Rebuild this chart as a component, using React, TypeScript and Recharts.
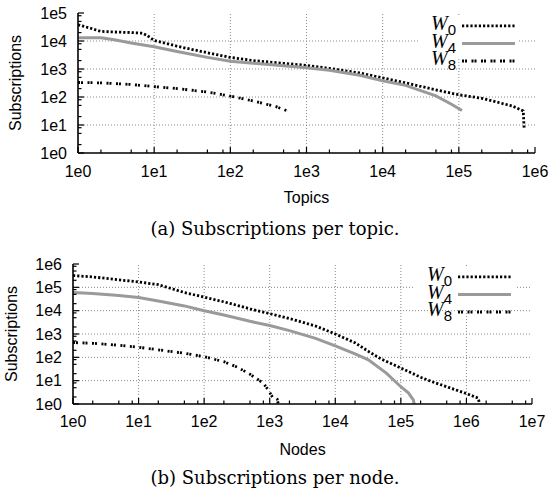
import React from 'react';
import { LineChart, Line, XAxis, YAxis, ReferenceLine, Legend } from 'recharts';

// ---------- (a) Subscriptions per topic ----------
const topicsW0X = [1, 1.5, 2, 3, 5, 7, 8, 10, 20, 50, 100, 200, 500, 1000, 2000, 5000, 10000, 20000, 50000, 100000, 200000, 500000, 700000, 720000];
const topicsW0Y = [38000, 28000, 22000, 21000, 20000, 19000, 16000, 10500, 6500, 3800, 2600, 2000, 1600, 1350, 1050, 720, 480, 320, 180, 120, 90, 48, 32, 8];
const topicsW4X = [1, 2, 3, 5, 10, 20, 50, 100, 200, 500, 1000, 2000, 5000, 10000, 20000, 50000, 80000, 110000];
const topicsW4Y = [13000, 13000, 11000, 8500, 6200, 4200, 2600, 1900, 1600, 1300, 1100, 900, 600, 380, 260, 110, 55, 33];
const topicsW8X = [1, 2, 5, 10, 20, 50, 100, 200, 400, 560];
const topicsW8Y = [330, 320, 280, 235, 200, 150, 108, 72, 45, 32];

// ---------- (b) Subscriptions per node ----------
const nodesW0X = [1, 2, 5, 10, 20, 50, 100, 200, 500, 1000, 2000, 5000, 10000, 20000, 32000, 50000, 100000, 200000, 300000, 500000, 1000000, 1500000, 1600000];
const nodesW0Y = [320000, 280000, 210000, 170000, 130000, 60000, 38000, 24000, 12000, 7500, 4600, 2200, 1000, 420, 180, 85, 35, 14, 9, 5.5, 2.8, 1.8, 1];
const nodesW4X = [1, 2, 5, 10, 20, 50, 100, 200, 500, 1000, 2000, 5000, 10000, 20000, 32000, 60000, 100000, 130000, 155000, 160000];
const nodesW4Y = [60000, 55000, 45000, 37000, 26000, 16000, 10000, 6500, 3500, 2300, 1400, 650, 310, 140, 78, 21, 5.5, 3, 1.5, 1];
const nodesW8X = [1, 2, 5, 10, 20, 50, 100, 200, 320, 500, 700, 800, 950, 1100, 1300, 1350];
const nodesW8Y = [430, 400, 330, 270, 210, 150, 107, 65, 38, 19, 10, 7.8, 4, 2, 1.6, 1];

// ---------- ticks ----------
const topicsXTicks = [1, 10, 100, 1000, 10000, 100000, 1000000];
const topicsXLabels = ['1e0', '1e1', '1e2', '1e3', '1e4', '1e5', '1e6'];
const topicsYTicks = [1, 10, 100, 1000, 10000, 100000];
const topicsYLabels = ['1e0', '1e1', '1e2', '1e3', '1e4', '1e5'];
const nodesXTicks = [1, 10, 100, 1000, 10000, 100000, 1000000, 10000000];
const nodesXLabels = ['1e0', '1e1', '1e2', '1e3', '1e4', '1e5', '1e6', '1e7'];
const nodesYTicks = [1, 10, 100, 1000, 10000, 100000, 1000000];
const nodesYLabels = ['1e0', '1e1', '1e2', '1e3', '1e4', '1e5', '1e6'];
const minorSteps = [2, 5, 8];

const seriesNames = ['W0', 'W4', 'W8'];
const seriesStyles: Record<string, { stroke: string; width: number; dash?: string }> = {
  W0: { stroke: '#000000', width: 2.8, dash: '2.2 2' },
  W4: { stroke: '#9a9a9a', width: 3 },
  W8: { stroke: '#000000', width: 2.8, dash: '2 1 2 4.5' },
};

const toPoints = (xs: number[], ys: number[]) => xs.map((x, i) => ({ x, y: ys[i] }));

const topicsSeries = [
  { name: seriesNames[0], data: toPoints(topicsW0X, topicsW0Y) },
  { name: seriesNames[1], data: toPoints(topicsW4X, topicsW4Y) },
  { name: seriesNames[2], data: toPoints(topicsW8X, topicsW8Y) },
];
const nodesSeries = [
  { name: seriesNames[0], data: toPoints(nodesW0X, nodesW0Y) },
  { name: seriesNames[1], data: toPoints(nodesW4X, nodesW4Y) },
  { name: seriesNames[2], data: toPoints(nodesW8X, nodesW8Y) },
];

const withMinors = (majors: number[]) => {
  const out: number[] = [];
  majors.forEach((m, i) => {
    out.push(m);
    if (i < majors.length - 1) minorSteps.forEach((s) => out.push(m * s));
  });
  return out;
};

const FONT = '"Liberation Sans", Arial, Helvetica, sans-serif';
const SERIF = '"Liberation Serif", "Times New Roman", serif';
const axisStyle = { stroke: '#000', strokeWidth: 1.6 };

function makeTick(side: 'bottom' | 'top' | 'left' | 'right', majors: number[], labels?: string[], gap = 12.5) {
  return (props: any) => {
    const { x, y, payload } = props;
    const v = payload.value;
    const idx = majors.indexOf(v);
    const len = idx >= 0 ? 6 : 3.5;
    let x2 = x;
    let y2 = y;
    if (side === 'bottom') y2 = y - len;
    if (side === 'top') y2 = y + len;
    if (side === 'left') x2 = x + len;
    if (side === 'right') x2 = x - len;
    let label: React.ReactNode = null;
    if (labels && idx >= 0) {
      if (side === 'bottom') {
        label = (
          <text x={x} y={y + gap} dy="0.71em" textAnchor="middle" fontSize={16} fontFamily={FONT} fill="#000">
            {labels[idx]}
          </text>
        );
      } else if (side === 'left') {
        label = (
          <text x={x - 11} y={y} dy="0.355em" textAnchor="end" fontSize={16} fontFamily={FONT} fill="#000">
            {labels[idx]}
          </text>
        );
      }
    }
    return (
      <g>
        <line x1={x} y1={y} x2={x2} y2={y2} stroke="#000" strokeWidth={1.2} />
        {label}
      </g>
    );
  };
}

const LEG_W = 100;
const ROW_H = 17.6;

function makeLegend() {
  return (props: any) => {
    const payload = props.payload || [];
    return (
      <div style={{ position: 'relative', width: LEG_W, height: 41, background: '#fff' }}>
        <svg width={LEG_W} height={60} style={{ position: 'absolute', left: 0, top: 0, overflow: 'visible' }}>
          {payload.map((entry: any, i: number) => {
            const name = String(entry.value);
            const st = seriesStyles[name] || seriesStyles.W0;
            const cy = ROW_H / 2 + i * ROW_H;
            return (
              <g key={name}>
                <text x={37} y={cy + 4.3} textAnchor="end" fill="#000">
                  <tspan fontFamily={SERIF} fontStyle="italic" fontSize={20}>
                    {name.charAt(0)}
                  </tspan>
                  <tspan fontFamily={FONT} fontSize={15} dy={5}>
                    {name.slice(1)}
                  </tspan>
                </text>
                <line x1={43} y1={cy} x2={96} y2={cy} stroke={st.stroke} strokeWidth={st.width} strokeDasharray={st.dash} />
              </g>
            );
          })}
        </svg>
      </div>
    );
  };
}

type PanelProps = {
  series: { name: string; data: { x: number; y: number }[] }[];
  xTicks: number[];
  xLabels: string[];
  yTicks: number[];
  yLabels: string[];
  width: number;
  height: number;
  margin: { top: number; right: number; left: number; bottom: number };
  yAxisWidth: number;
  xAxisHeight: number;
  xTitle: string;
  yTitle: string;
  yTitleX: number;
  xTitleDrop: number;
  xLabelGap: number;
  legendLeft: number;
  legendTop: number;
};

function Panel(p: PanelProps) {
  const xDomain = [p.xTicks[0], p.xTicks[p.xTicks.length - 1]];
  const yDomain = [p.yTicks[0], p.yTicks[p.yTicks.length - 1]];
  const xAll = withMinors(p.xTicks);
  const yAll = withMinors(p.yTicks);
  const xGrid = p.xTicks.slice(1, -1);
  const yGrid = p.yTicks.slice(1, -1);
  return (
    <LineChart width={p.width} height={p.height} margin={p.margin}>
      <XAxis
        xAxisId="x"
        dataKey="x"
        type="number"
        scale="log"
        domain={xDomain}
        allowDataOverflow
        ticks={xAll}
        interval={0}
        tickSize={0}
        tickMargin={0}
        tickLine={false}
        axisLine={axisStyle}
        tick={makeTick('bottom', p.xTicks, p.xLabels, p.xLabelGap)}
        height={p.xAxisHeight}
        label={{
          content: (lp: any) => {
            const vb = lp.viewBox || {};
            return (
              <text x={vb.x + vb.width / 2} y={vb.y + p.xTitleDrop} textAnchor="middle" fontSize={16} fontFamily={FONT} fill="#000">
                {p.xTitle}
              </text>
            );
          },
        }}
      />
      <XAxis
        xAxisId="xt"
        orientation="top"
        type="number"
        scale="log"
        domain={xDomain}
        allowDataOverflow
        ticks={xAll}
        interval={0}
        tickSize={0}
        tickMargin={0}
        tickLine={false}
        axisLine={axisStyle}
        tick={makeTick('top', p.xTicks)}
        height={0}
      />
      <YAxis
        yAxisId="y"
        type="number"
        scale="log"
        domain={yDomain}
        allowDataOverflow
        ticks={yAll}
        interval={0}
        tickSize={0}
        tickMargin={0}
        tickLine={false}
        axisLine={axisStyle}
        tick={makeTick('left', p.yTicks, p.yLabels)}
        width={p.yAxisWidth}
        label={{
          content: (lp: any) => {
            const vb = lp.viewBox || {};
            const cy = vb.y + vb.height / 2;
            return (
              <text
                x={p.yTitleX}
                y={cy}
                dy="0.355em"
                transform={`rotate(-90, ${p.yTitleX}, ${cy})`}
                textAnchor="middle"
                fontSize={16}
                fontFamily={FONT}
                fill="#000"
              >
                {p.yTitle}
              </text>
            );
          },
        }}
      />
      <YAxis
        yAxisId="yr"
        orientation="right"
        type="number"
        scale="log"
        domain={yDomain}
        allowDataOverflow
        ticks={yAll}
        interval={0}
        tickSize={0}
        tickMargin={0}
        tickLine={false}
        axisLine={axisStyle}
        tick={makeTick('right', p.yTicks)}
        width={0}
      />
      {xGrid.map((v) => (
        <ReferenceLine key={'gx' + v} x={v} xAxisId="x" yAxisId="y" stroke="#8a8a8a" strokeWidth={1} strokeDasharray="1 2" />
      ))}
      {yGrid.map((v) => (
        <ReferenceLine key={'gy' + v} y={v} xAxisId="x" yAxisId="y" stroke="#8a8a8a" strokeWidth={1} strokeDasharray="1 2" />
      ))}
      {p.series.map((s) => {
        const st = seriesStyles[s.name];
        return (
          <Line
            key={s.name}
            name={s.name}
            data={s.data}
            dataKey="y"
            xAxisId="x"
            yAxisId="y"
            type="linear"
            dot={false}
            activeDot={false}
            stroke={st.stroke}
            strokeWidth={st.width}
            strokeDasharray={st.dash}
            isAnimationActive={false}
          />
        );
      })}
      <Legend
        layout="vertical"
        align="center"
        verticalAlign="middle"
        content={makeLegend()}
        wrapperStyle={{ left: p.legendLeft, top: p.legendTop, width: LEG_W, height: 41 }}
      />
    </LineChart>
  );
}

const captionStyle: React.CSSProperties = {
  position: 'absolute',
  left: 0,
  width: 550,
  textAlign: 'center',
  fontFamily: '"DejaVu Serif", serif',
  fontSize: 18,
  lineHeight: '20px',
  color: '#000',
};

export default function App() {
  return (
    <div style={{ position: 'absolute', left: 0, top: 0, width: 550, height: 496, background: '#fff', overflow: 'hidden' }}>
      <div style={{ position: 'absolute', left: 0, top: 0 }}>
        <Panel
          series={topicsSeries}
          xTicks={topicsXTicks}
          xLabels={topicsXLabels}
          yTicks={topicsYTicks}
          yLabels={topicsYLabels}
          width={550}
          height={210}
          margin={{ top: 13, right: 15, left: 0, bottom: 0 }}
          yAxisWidth={78}
          xAxisHeight={57}
          xTitle="Topics"
          yTitle="Subscriptions"
          yTitleX={15.5}
          xTitleDrop={50}
          xLabelGap={12.5}
          legendLeft={419}
          legendTop={17}
        />
      </div>
      <div style={{ ...captionStyle, top: 219 }}>(a) Subscriptions per topic.</div>
      <div style={{ position: 'absolute', left: 0, top: 250 }}>
        <Panel
          series={nodesSeries}
          xTicks={nodesXTicks}
          xLabels={nodesXLabels}
          yTicks={nodesYTicks}
          yLabels={nodesYLabels}
          width={550}
          height={212}
          margin={{ top: 14, right: 18, left: 0, bottom: 0 }}
          yAxisWidth={73}
          xAxisHeight={58}
          xTitle="Nodes"
          yTitle="Subscriptions"
          yTitleX={11.7}
          xTitleDrop={51}
          xLabelGap={12}
          legendLeft={415}
          legendTop={18}
        />
      </div>
      <div style={{ ...captionStyle, top: 468 }}>(b) Subscriptions per node.</div>
    </div>
  );
}
